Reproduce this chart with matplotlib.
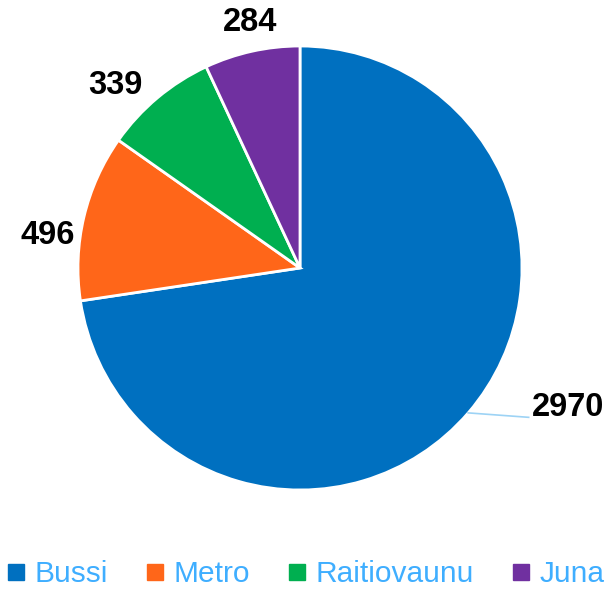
import numpy as np
import matplotlib.pyplot as plt
from matplotlib.lines import Line2D

plt.rcParams['font.family'] = ['Liberation Sans', 'DejaVu Sans']

categories = ["Bussi", "Metro", "Raitiovaunu", "Juna"]
values = [2970, 496, 339, 284]
colors = ["#0070C0", "#FF6619", "#00AF50", "#7030A0"]

fig = plt.figure(figsize=(6.07, 5.90), dpi=100)
# pie centre ~ (300, 268) px, radius ~222 px
ax = fig.add_axes([78/607, 100/590, 444/607, 444/590])
wedges, _ = ax.pie(values, colors=colors, startangle=90, counterclock=False,
                   radius=1, wedgeprops=dict(edgecolor="white", linewidth=2))
ax.set_xlim(-1, 1)
ax.set_ylim(-1, 1)
ax.set_aspect("equal")
ax.axis("off")

# label radius and angle shift per slice (Excel-style placement)
label_r = [None, 1.145, 1.17, 1.13]
label_shift = [0, 6.0, 5.4, -1.0]
for w, v, r, s in zip(wedges, values, label_r, label_shift):
    ang = np.deg2rad((w.theta1 + w.theta2) / 2)
    x, y = np.cos(ang), np.sin(ang)
    if r is None:
        # leader line for the big slice
        ax.plot([x, 1.03], [y, y - 0.02], color="#9DD3F5", lw=1.2, clip_on=False)
        ax.text(1.045, -0.63, str(v), ha="left", va="center", fontsize=23.5,
                fontweight="bold", clip_on=False)
    else:
        a = ang + np.deg2rad(s)
        ax.text(r * np.cos(a), r * np.sin(a), str(v), ha="center", va="center",
                fontsize=23.5, fontweight="bold", clip_on=False)

handles = [Line2D([], [], marker="s", ls="", color=c, markersize=11) for c in colors]
fig.legend(handles, categories, loc="center", bbox_to_anchor=(0.505, 1 - 574/590),
           ncol=4, frameon=False, fontsize=21.5, labelcolor="#3FAEFF",
           handlelength=0.5, handletextpad=0.35, columnspacing=1.35)

fig.savefig("out.png", dpi=100)
